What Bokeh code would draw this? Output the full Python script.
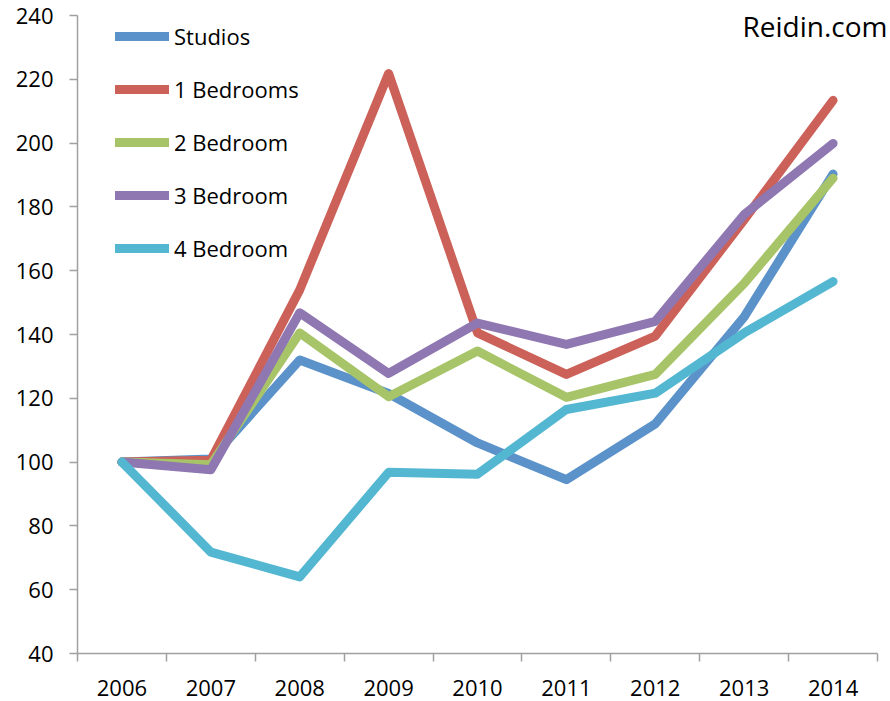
import numpy as np
from bokeh.plotting import figure
from bokeh.models import Range1d, FixedTicker, Legend, LegendItem, Label
from bokeh.embed import file_html
from bokeh.resources import INLINE

years = ["2006", "2007", "2008", "2009", "2010", "2011", "2012", "2013", "2014"]
studios = [100, 101, 132, 121.5, 106, 94.5, 112, 145.5, 190.3]
bed1 = [100, 100.6, 154, 221.8, 140.5, 127.5, 139.5, 176, 213.4]
bed2 = [100, 99.2, 140.5, 120.5, 134.8, 120.3, 127.5, 156, 189]
bed3 = [100, 97.6, 146.8, 127.8, 143.6, 136.9, 144.1, 177.6, 199.9]
bed4 = [100, 71.8, 64, 96.8, 96.2, 116.5, 121.6, 140.5, 156.6]

series = [
    ("Studios", studios, "#5B92C9"),
    ("1 Bedrooms", bed1, "#CC6159"),
    ("2 Bedroom", bed2, "#A8C468"),
    ("3 Bedroom", bed3, "#8F77B1"),
    ("4 Bedroom", bed4, "#53B7D1"),
]
yticks = [40, 60, 80, 100, 120, 140, 160, 180, 200, 220, 240]

n = len(years)
xs = np.arange(n) + 0.5
FONT = "Open Sans"

# frame: 800 px for the categories plus 13 px of free space on the right
x_end = n * 813 / 800

p = figure(width=890, height=701, output_backend="svg", toolbar_location=None,
           x_range=Range1d(0, x_end), y_range=Range1d(40, 240),
           min_border_left=77, min_border_right=0, min_border_top=15, min_border_bottom=48)
p.outline_line_color = None
p.xgrid.visible = False
p.ygrid.visible = False
p.background_fill_color = "white"
p.border_fill_color = "white"

items = []
for name, vals, col in series:
    r = p.line(xs, vals, line_color=col, line_width=9, line_cap="round", line_join="round")
    items.append(LegendItem(label=name, renderers=[r]))

axis_color = "#A0A0A0"
# x axis: labels at category centres, tick marks at category boundaries
xa = p.xaxis[0]
xa.bounds = (0, n)
xa.ticker = FixedTicker(ticks=list(xs), minor_ticks=list(range(n + 1)))
xa.major_label_overrides = {float(x): y for x, y in zip(xs, years)}
xa.major_tick_in = 0
xa.major_tick_out = 0
xa.minor_tick_in = 0
xa.minor_tick_out = 8
xa.minor_tick_line_color = axis_color
xa.minor_tick_line_width = 1.5
xa.axis_line_color = axis_color
xa.axis_line_width = 1.5
xa.major_label_standoff = 18
xa.major_label_text_font = FONT
xa.major_label_text_font_size = "22px"
xa.major_label_text_color = "black"

ya = p.yaxis[0]
ya.ticker = FixedTicker(ticks=yticks)
ya.major_tick_in = 0
ya.major_tick_out = 8
ya.minor_tick_line_color = None
ya.major_tick_line_color = axis_color
ya.major_tick_line_width = 1.5
ya.axis_line_color = axis_color
ya.axis_line_width = 1.5
ya.major_label_standoff = 16
ya.major_label_text_font = FONT
ya.major_label_text_font_size = "22px"
ya.major_label_text_color = "black"

legend = Legend(items=items, location=(38, 390), orientation="vertical",
                glyph_width=54, glyph_height=30, label_height=30, spacing=23,
                label_standoff=5, padding=0, margin=0,
                border_line_alpha=0, background_fill_alpha=0,
                label_text_font=FONT, label_text_font_size="22px",
                label_text_color="black")
p.add_layout(legend)

lab = Label(x=810, y=628, x_units="screen", y_units="screen", text="Reidin.com",
            text_align="right", text_baseline="alphabetic",
            text_font=FONT, text_font_size="28px", text_color="black")
p.add_layout(lab)

open("out.html", "w").write(file_html(p, INLINE))
